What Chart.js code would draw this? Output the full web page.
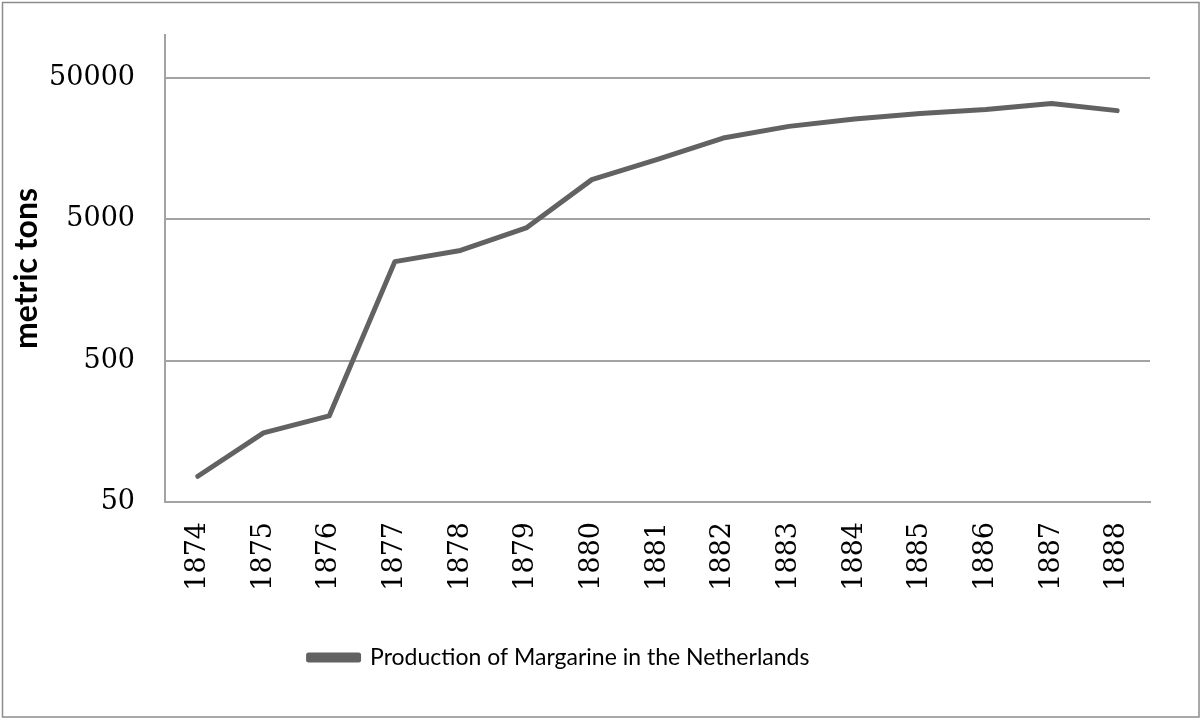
<!DOCTYPE html>
<html><head><meta charset="utf-8">
<script src="https://cdn.jsdelivr.net/npm/chart.js@4.4.1/dist/chart.umd.min.js"></script>
<style>html,body{margin:0;padding:0;background:#fff}#wrap{width:1202px;height:719px;position:relative}</style>
</head><body><div id="wrap"><canvas id="c" width="1202" height="719"></canvas></div>
<script>
const years = ['1874','1875','1876','1877','1878','1879','1880','1881','1882','1883','1884','1885','1886','1887','1888'];
const production = [76, 154, 203, 2500, 3000, 4330, 9500, 13200, 18700, 22600, 25500, 27900, 29700, 32800, 29200];
const yTicks = [50, 500, 5000, 50000];
const seriesLabel = 'Production of Margarine in the Netherlands';
const yTitle = 'metric tons';

const lineColor = '#626262';
const gridColor = '#a3a3a3';

const framePlugin = {
  id: 'frame',
  afterLayout(chart) {
    const lg = chart.legend;
    if (lg) { lg.left -= 16; lg.right -= 16; }
  },
  beforeDraw(chart) {
    const ctx = chart.ctx;
    ctx.save();
    ctx.fillStyle = '#ffffff';
    ctx.fillRect(0, 0, chart.width, chart.height);
    ctx.restore();
  },
  afterDraw(chart) {
    const ctx = chart.ctx;
    ctx.save();
    ctx.strokeStyle = '#8c8c8c';
    ctx.lineWidth = 1.5;
    ctx.strokeRect(2.5, 2.5, 1196.5, 714.5);
    ctx.restore();
  }
};

new Chart(document.getElementById('c'), {
  type: 'line',
  data: {
    labels: years,
    datasets: [{
      label: seriesLabel,
      data: production,
      borderColor: lineColor,
      backgroundColor: lineColor,
      borderWidth: 5,
      pointRadius: 0,
      tension: 0,
      borderCapStyle: 'round',
      borderJoinStyle: 'round'
    }]
  },
  options: {
    responsive: false,
    animation: false,
    layout: { padding: { top: 35, right: 52, left: 0, bottom: 40 } },
    plugins: {
      tooltip: { enabled: false },
      legend: {
        position: 'bottom',
        labels: {
          boxWidth: 50,
          boxHeight: 5,
          padding: 10,
          color: '#000',
          font: { family: 'Lato', size: 23 }
        }
      }
    },
    scales: {
      x: {
        offset: true,
        grid: { display: true, drawOnChartArea: false, drawTicks: false, offset: true },
        border: { display: true, color: gridColor, width: 2 },
        ticks: {
          minRotation: 90, maxRotation: 90, padding: 20,
          color: '#000',
          font: { family: 'DejaVu Serif', size: 27 }
        },
        afterFit(s) { s.height = 134; s.paddingLeft = 0; s.paddingRight = 0; }
      },
      y: {
        type: 'logarithmic',
        min: 50,
        max: 100000,
        afterBuildTicks(s) { s.ticks = yTicks.map(v => ({ value: v })); },
        grid: { color: gridColor, lineWidth: 2, drawTicks: false },
        border: { display: true, color: gridColor, width: 2 },
        ticks: {
          padding: 30,
          color: '#000',
          font: { family: 'DejaVu Serif', size: 27 },
          callback: v => String(v)
        },
        title: {
          display: true,
          text: yTitle,
          color: '#000',
          font: { family: 'Lato', size: 32, weight: 'bold' },
          padding: { top: 7, bottom: 0 }
        },
        afterFit(s) { s.width = 165; s.paddingTop = 0; s.paddingBottom = 0; }
      }
    }
  },
  plugins: [framePlugin]
});
</script>
</body></html>
